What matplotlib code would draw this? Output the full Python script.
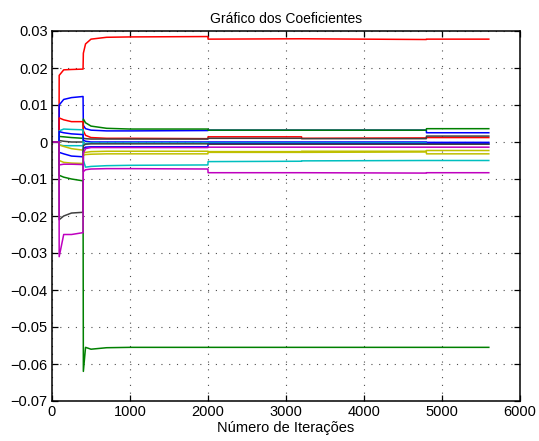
import matplotlib
matplotlib.use('Agg')
import matplotlib.pyplot as plt
import numpy as np

iters = [0, 90, 92, 150, 250, 398, 402, 430, 500, 700, 1000, 1999, 2001, 3199, 3201, 4799, 4801, 5600]

# MATLAB colour codes
mcolors = {
    'b': (0, 0, 1), 'g': (0, 0.5, 0), 'r': (1, 0, 0), 'c': (0, 0.75, 0.75),
    'm': (0.75, 0, 0.75), 'y': (0.75, 0.75, 0), 'k': (0.25, 0.25, 0.25),
}

red_top = [0, 0, 0.018, 0.0195, 0.0196, 0.0197, 0.024, 0.0265, 0.0278, 0.0283, 0.0284, 0.0285, 0.0278, 0.0279, 0.0279, 0.0277, 0.0278, 0.0278]
blue_top = [0, 0, 0.010, 0.0115, 0.0120, 0.0123, 0.0045, 0.0036, 0.0032, 0.0030, 0.0030, 0.0031, 0.0032, 0.0032, 0.0032, 0.0032, 0.0025, 0.0025]
green_top = [0, 0, 0.0015, 0.0014, 0.0012, 0.0010, 0.0062, 0.0052, 0.0043, 0.0037, 0.0035, 0.0035, 0.0032, 0.0032, 0.0032, 0.0032, 0.0036, 0.0036]
red_mid = [0, 0, 0.0065, 0.0060, 0.0055, 0.0055, 0.0030, 0.0018, 0.0012, 0.0010, 0.0010, 0.0009, 0.0014, 0.0014, 0.0010, 0.0011, 0.0012, 0.0012]
black_mid = [0, 0, 0.0004, 0.0002, 0.0000, 0.0000, 0.0010, 0.0009, 0.0008, 0.0008, 0.0008, 0.0008, 0.0010, 0.0010, 0.0009, 0.0009, 0.0016, 0.0016]
cyan_top = [0, 0, 0.0030, 0.0035, 0.0034, 0.0033, -0.0050, -0.0068, -0.0066, -0.0064, -0.0063, -0.0062, -0.0053, -0.0052, -0.0051, -0.0050, -0.0050, -0.0050]
blue_mid = [0, 0, 0.0028, 0.0025, 0.0022, 0.0020, 0.0005, 0.0002, 0.0000, 0.0000, 0.0000, 0.0000, 0.0000, 0.0000, 0.0000, 0.0000, -0.0001, -0.0001]
cyan_mid = [0, 0, -0.0008, -0.0010, -0.0010, -0.0010, -0.0006, -0.0004, -0.0003, -0.0003, -0.0003, -0.0003, -0.0002, -0.0002, -0.0002, -0.0002, -0.0006, -0.0006]
yellow_top = [0, 0, -0.0008, -0.0012, -0.0018, -0.0022, -0.0030, -0.0028, -0.0026, -0.0025, -0.0025, -0.0025, -0.0026, -0.0026, -0.0025, -0.0025, -0.0023, -0.0023]
blue_low = [0, 0, -0.0028, -0.0032, -0.0038, -0.0040, -0.0018, -0.0014, -0.0013, -0.0013, -0.0013, -0.0013, -0.0004, -0.0004, -0.0004, -0.0004, -0.0004, -0.0004]
yellow_low = [0, 0, -0.0050, -0.0055, -0.0057, -0.0058, -0.0036, -0.0034, -0.0033, -0.0032, -0.0032, -0.0032, -0.0028, -0.0028, -0.0028, -0.0027, -0.0032, -0.0032]
magenta_mid = [0, 0, -0.0062, -0.0060, -0.0060, -0.0061, -0.0080, -0.0075, -0.0073, -0.0072, -0.0072, -0.0073, -0.0083, -0.0083, -0.0083, -0.0084, -0.0083, -0.0083]
green_low = [0, 0, -0.0090, -0.0095, -0.0100, -0.0105, -0.0620, -0.0555, -0.0560, -0.0556, -0.0555, -0.0555, -0.0555, -0.0555, -0.0555, -0.0555, -0.0555, -0.0555]
black_low = [0, 0, -0.0210, -0.0200, -0.0192, -0.0190, -0.0010, -0.0006, -0.0005, -0.0005, -0.0005, -0.0005, -0.0006, -0.0006, -0.0006, -0.0006, -0.0006, -0.0006]
magenta_low = [0, 0, -0.0310, -0.0250, -0.0250, -0.0245, -0.0030, -0.0018, -0.0015, -0.0015, -0.0015, -0.0015, -0.0014, -0.0014, -0.0014, -0.0014, -0.0014, -0.0014]

coefs = [
    (red_top, 'r'), (blue_top, 'b'), (green_top, 'g'), (red_mid, 'r'), (black_mid, 'k'),
    (cyan_top, 'c'), (blue_mid, 'b'), (cyan_mid, 'c'), (yellow_top, 'y'), (blue_low, 'b'),
    (yellow_low, 'y'), (magenta_mid, 'm'), (green_low, 'g'), (black_low, 'k'), (magenta_low, 'm'),
]

xticks = [0, 1000, 2000, 3000, 4000, 5000, 6000]
yticks = [-0.07, -0.06, -0.05, -0.04, -0.03, -0.02, -0.01, 0, 0.01, 0.02, 0.03]
ytick_labels = ['\u22120.07', '\u22120.06', '\u22120.05', '\u22120.04', '\u22120.03', '\u22120.02',
                '\u22120.01', '0', '0.01', '0.02', '0.03']

plt.rcParams['font.family'] = ['Liberation Sans', 'DejaVu Sans']

fig = plt.figure(figsize=(5.39, 4.41), dpi=100)
ax = fig.add_axes([52 / 539, 40 / 441, 468 / 539, 370 / 441])

for vals, c in coefs:
    ax.plot(iters, vals, color=mcolors[c], lw=1.1)

ax.set_xlim(0, 6000)
ax.set_ylim(-0.07, 0.03)
ax.set_xticks(xticks)
ax.set_yticks(yticks)
ax.set_yticklabels(ytick_labels)
ax.tick_params(direction='in', length=4, width=0.9, top=True, right=True, labelsize=10.5, pad=3)
ax.grid(True, linestyle=(0, (1, 6)), color='0.3', lw=0.8)
for s in ax.spines.values():
    s.set_linewidth(1.1)

ax.set_title('Gráfico dos Coeficientes', fontsize=10, pad=6)
ax.set_xlabel('Número de Iterações', fontsize=10.5, labelpad=1)

fig.savefig('out.png', dpi=100)
